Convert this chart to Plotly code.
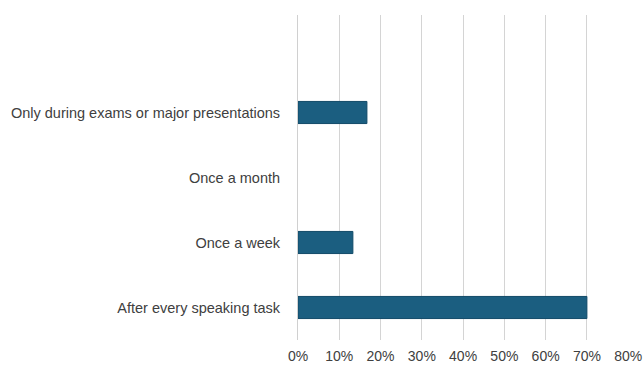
import plotly.graph_objects as go

# Survey responses: how often feedback is received
categories = [
    "After every speaking task",
    "Once a week",
    "Once a month",
    "Only during exams or major presentations",
]
shares = [0.70, 0.133, 0.0, 0.167]
x_ticks = [0, 0.1, 0.2, 0.3, 0.4, 0.5, 0.6, 0.7, 0.8]
x_tick_labels = ["0%", "10%", "20%", "30%", "40%", "50%", "60%", "70%", "80%"]

font_family = "Liberation Sans, Arial, sans-serif"
text_color = "#404040"

fig = go.Figure(
    go.Bar(
        x=shares,
        y=categories,
        orientation="h",
        width=0.34,
        marker=dict(
            color="#1b5e80",
            line=dict(color="#114a68", width=[1 if v > 0 else 0 for v in shares]),
        ),
        hoverinfo="x+y",
    )
)

fig.update_layout(
    width=643,
    height=368,
    margin=dict(l=298, r=14, t=15, b=28),
    paper_bgcolor="white",
    plot_bgcolor="white",
    showlegend=False,
    font=dict(family=font_family, size=14, color=text_color),
    xaxis=dict(
        range=[0, 0.802],
        tickvals=x_ticks,
        ticktext=x_tick_labels,
        showgrid=True,
        gridcolor="#d4d4d4",
        gridwidth=1,
        zeroline=False,
        showline=False,
        ticks="",
        ticklabelstandoff=6,
        tickfont=dict(size=14, color=text_color),
        automargin=False,
        fixedrange=True,
    ),
    yaxis=dict(
        type="category",
        categoryorder="array",
        categoryarray=categories,
        range=[-0.5, 4.5],
        showgrid=False,
        showline=True,
        linecolor="#d0d0d0",
        linewidth=1,
        zeroline=False,
        ticks="",
        ticklabelstandoff=14,
        tickfont=dict(size=14.5, color=text_color),
        automargin=False,
        fixedrange=True,
    ),
)

fig.write_html("out.html")
